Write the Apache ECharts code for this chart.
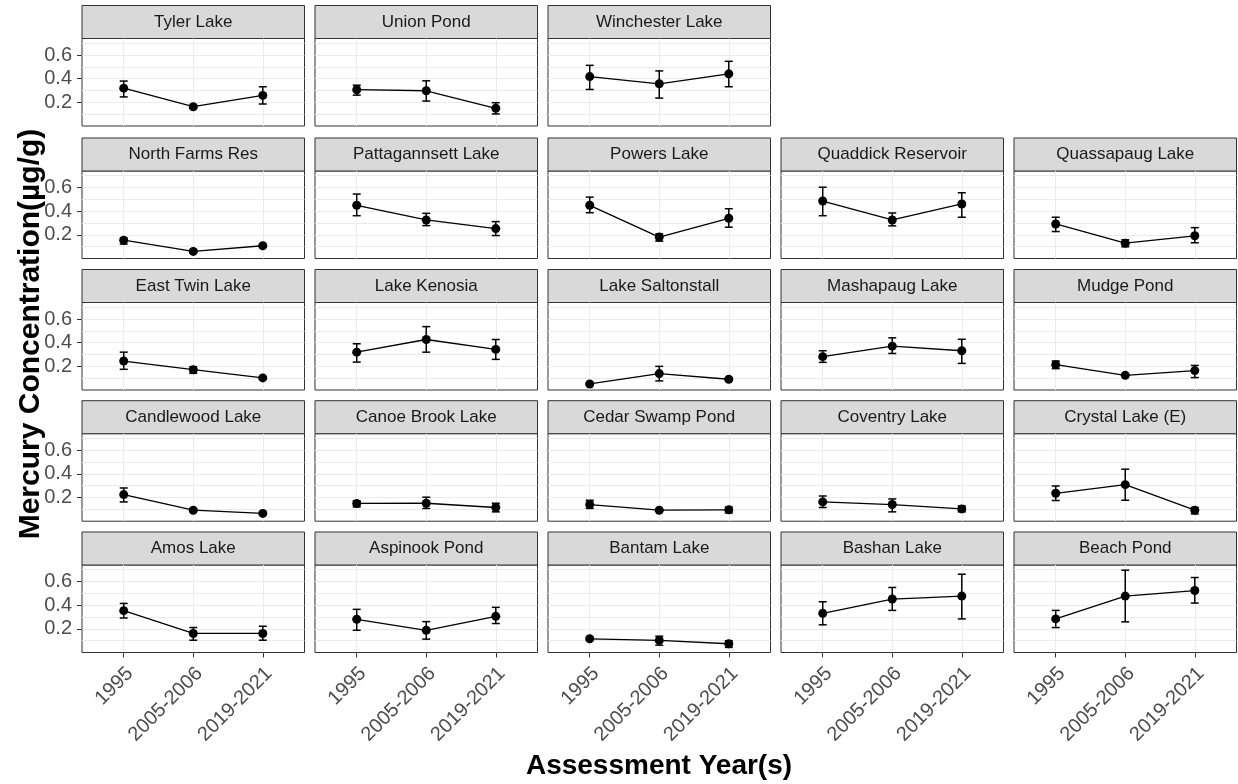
<!DOCTYPE html>
<html><head><meta charset="utf-8">
<script src="https://cdn.jsdelivr.net/npm/echarts@6/dist/echarts.min.js"></script>
<style>html,body{margin:0;padding:0;background:#fff}#chart{width:1238px;height:784px}</style>
</head><body><div id="chart"></div>
<script>
// ---- data ----
const yearLabels = ['1995', '2005-2006', '2019-2021'];
const lakeNames = [
  'Amos Lake', 'Aspinook Pond', 'Bantam Lake', 'Bashan Lake', 'Beach Pond',
  'Candlewood Lake', 'Canoe Brook Lake', 'Cedar Swamp Pond', 'Coventry Lake', 'Crystal Lake (E)',
  'East Twin Lake', 'Lake Kenosia', 'Lake Saltonstall', 'Mashapaug Lake', 'Mudge Pond',
  'North Farms Res', 'Pattagannsett Lake', 'Powers Lake', 'Quaddick Reservoir', 'Quassapaug Lake',
  'Tyler Lake', 'Union Pond', 'Winchester Lake'
];
const meanValues = [
  [0.354, 0.161, 0.161], [0.281, 0.188, 0.306], [0.116, 0.102, 0.074], [0.331, 0.452, 0.477], [0.284, 0.477, 0.524],
  [0.225, 0.093, 0.066], [0.150, 0.152, 0.116], [0.141, 0.093, 0.096], [0.163, 0.141, 0.104], [0.236, 0.309, 0.093],
  [0.245, 0.172, 0.102], [0.320, 0.427, 0.343], [0.051, 0.139, 0.091], [0.282, 0.371, 0.332], [0.214, 0.124, 0.164],
  [0.155, 0.060, 0.108], [0.450, 0.326, 0.253], [0.450, 0.181, 0.340], [0.486, 0.326, 0.461], [0.292, 0.130, 0.192],
  [0.320, 0.163, 0.259], [0.307, 0.298, 0.150], [0.418, 0.357, 0.441]
];
const lowerValues = [
  [0.292, 0.104, 0.104], [0.188, 0.113, 0.245], [0.106, 0.062, 0.043], [0.234, 0.356, 0.284], [0.211, 0.259, 0.418],
  [0.163, 0.083, 0.058], [0.121, 0.108, 0.079], [0.108, 0.085, 0.070], [0.116, 0.079, 0.079], [0.175, 0.177, 0.062],
  [0.175, 0.141, 0.092], [0.236, 0.320, 0.259], [0.045, 0.077, 0.081], [0.234, 0.309, 0.225], [0.181, 0.116, 0.105],
  [0.122, 0.052, 0.098], [0.362, 0.278, 0.194], [0.387, 0.147, 0.265], [0.362, 0.276, 0.349], [0.228, 0.099, 0.133],
  [0.246, 0.153, 0.186], [0.261, 0.211, 0.102], [0.309, 0.236, 0.332]
];
const upperValues = [
  [0.415, 0.211, 0.222], [0.365, 0.261, 0.382], [0.126, 0.138, 0.099], [0.429, 0.550, 0.662], [0.356, 0.696, 0.634],
  [0.281, 0.103, 0.074], [0.171, 0.203, 0.152], [0.177, 0.101, 0.120], [0.213, 0.188, 0.129], [0.298, 0.440, 0.116],
  [0.320, 0.197, 0.112], [0.391, 0.536, 0.427], [0.057, 0.200, 0.101], [0.332, 0.441, 0.429], [0.245, 0.132, 0.208],
  [0.172, 0.068, 0.118], [0.545, 0.382, 0.312], [0.519, 0.208, 0.421], [0.603, 0.385, 0.556], [0.349, 0.158, 0.261],
  [0.380, 0.173, 0.332], [0.345, 0.382, 0.197], [0.513, 0.466, 0.547]
];
const yTickLabels = [0.2, 0.4, 0.6];
const yGridValues = [0.1, 0.2, 0.3, 0.4, 0.5, 0.6, 0.7];
const xPositions = [1, 2, 3];

// ---- layout ----
const FONT = "'Liberation Sans', Arial, sans-serif";
const colLeft = [82, 315, 548, 781, 1014];
const rowTop = [565, 433.7, 302.5, 171, 38.5]; // bottom row first (facets fill bottom-up)
const panelW = 222.5, panelH = 87.5, stripH = 33;
const Y_MIN = 0, Y_MAX = 0.74;
const LABEL_NUDGE = 0.09; // ggplot anchors rotated labels at their top-right corner

const grids = [], xAxes = [], yAxes = [], series = [], graphics = [];

lakeNames.forEach((name, i) => {
  const r = Math.floor(i / 5), c = i % 5;
  const left = colLeft[c], top = rowTop[r];
  grids.push({ left: left, top: top, width: panelW, height: panelH, show: true,
    borderColor: '#333333', borderWidth: 1, backgroundColor: '#ffffff', containLabel: false });
  const bottomRow = r === 0;
  xAxes.push({
    gridIndex: i, type: 'value', min: 0.4, max: 3.6,
    axisLine: { show: false },
    axisTick: { show: bottomRow, customValues: xPositions, length: 5, lineStyle: { color: '#333333' } },
    axisLabel: { show: bottomRow, customValues: xPositions.map(v => v + LABEL_NUDGE),
      formatter: v => yearLabels[Math.round(v) - 1],
      rotate: 45, fontSize: 20, color: '#4D4D4D', fontFamily: FONT, margin: 18 },
    splitLine: { show: true, lineStyle: { color: '#EBEBEB', width: 1 } }
  });
  const yIdx = yAxes.length;
  yAxes.push({
    gridIndex: i, type: 'value', min: Y_MIN, max: Y_MAX, position: 'right',
    axisLine: { show: false },
    axisTick: { show: false, customValues: yGridValues },
    axisLabel: { show: false },
    splitLine: { show: true, lineStyle: { color: '#EBEBEB', width: 1 } }
  });
  if (c === 0) {
    yAxes.push({
      gridIndex: i, type: 'value', min: Y_MIN, max: Y_MAX, position: 'left',
      axisLine: { show: false },
      axisTick: { show: true, customValues: yTickLabels, length: 5, lineStyle: { color: '#333333' } },
      axisLabel: { show: true, customValues: yTickLabels, formatter: v => v.toFixed(1),
        fontSize: 20, color: '#4D4D4D', fontFamily: FONT, margin: 10 },
      splitLine: { show: false }
    });
  }
  series.push({
    type: 'custom', xAxisIndex: i, yAxisIndex: yIdx, z: 3,
    encode: { x: 0, y: [1, 2] },
    data: lowerValues[i].map((lo, k) => [xPositions[k], lo, upperValues[i][k]]),
    renderItem: (params, api) => {
      const x = api.value(0);
      const p1 = api.coord([x, api.value(1)]);
      const p2 = api.coord([x, api.value(2)]);
      const hw = 4;
      const st = { stroke: '#000000', lineWidth: 1.5 };
      return { type: 'group', children: [
        { type: 'line', shape: { x1: p1[0], y1: p1[1], x2: p2[0], y2: p2[1] }, style: st },
        { type: 'line', shape: { x1: p1[0] - hw, y1: p1[1], x2: p1[0] + hw, y2: p1[1] }, style: st },
        { type: 'line', shape: { x1: p2[0] - hw, y1: p2[1], x2: p2[0] + hw, y2: p2[1] }, style: st }
      ]};
    },
    animation: false, silent: true
  });
  series.push({
    type: 'line', xAxisIndex: i, yAxisIndex: yIdx, z: 4,
    data: meanValues[i].map((m, k) => [xPositions[k], m]),
    symbol: 'circle', symbolSize: 9, showSymbol: true,
    itemStyle: { color: '#000000' },
    lineStyle: { color: '#000000', width: 1.3 },
    animation: false, silent: true
  });
  // facet strip
  graphics.push({ type: 'rect', shape: { x: left, y: top - stripH, width: panelW, height: stripH },
    style: { fill: '#D9D9D9', stroke: '#333333', lineWidth: 1 }, silent: true });
  graphics.push({ type: 'text', x: left + panelW / 2, y: top - stripH / 2,
    style: { text: name, fill: '#1A1A1A', font: "17px " + FONT, textAlign: 'center', textVerticalAlign: 'middle' }, silent: true });
});

graphics.push({ type: 'text', x: 659, y: 766,
  style: { text: 'Assessment Year(s)', fill: '#000000', font: "bold 28px " + FONT, textAlign: 'center', textVerticalAlign: 'middle' } });
graphics.push({ type: 'text', x: 31, y: 334, rotation: Math.PI / 2,
  style: { text: 'Mercury Concentration(µg/g)', fill: '#000000', font: "bold 30px " + FONT, textAlign: 'center', textVerticalAlign: 'middle' } });

const chart = echarts.init(document.getElementById('chart'), null, { renderer: 'canvas', width: 1238, height: 784 });
chart.setOption({
  backgroundColor: '#ffffff',
  animation: false,
  grid: grids, xAxis: xAxes, yAxis: yAxes, series: series, graphic: graphics
});
</script></body></html>
